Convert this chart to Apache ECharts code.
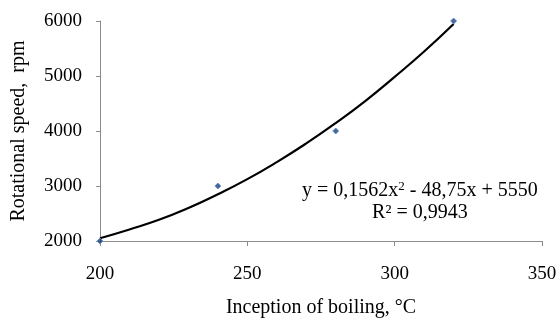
<!DOCTYPE html>
<html>
<head>
<meta charset="utf-8">
<script src="https://cdn.jsdelivr.net/npm/echarts@6/dist/echarts.min.js"></script>
<style>
  html, body { margin: 0; padding: 0; background: #fff; }
  #chart { width: 560px; height: 319px; }
</style>
</head>
<body>
<div id="chart"></div>
<script>
// measured points
var tempX = [200, 240, 280, 320];
var speedY = [2000, 3000, 4000, 6000];

// polynomial trend line
var trendX = [200, 210, 220, 230, 240, 250, 260, 270, 280, 290, 300, 310, 320];
var trendY = [2050, 2210, 2385, 2600, 2850, 3125, 3435, 3775, 4145, 4545, 4985, 5445, 5945];

var fontFam = '"Liberation Serif", "Times New Roman", serif';

var pts = tempX.map(function (x, i) { return [x, speedY[i]]; });
var trend = trendX.map(function (x, i) { return [x, trendY[i]]; });

var myChart = echarts.init(document.getElementById('chart'));
var option = {
  animation: false,
  grid: { left: 100, right: 18, top: 21, bottom: 78, outerBoundsMode: 'none', containLabel: false },
  xAxis: {
    type: 'value',
    min: 200, max: 350, interval: 50,
    name: 'Inception of boiling, °C',
    nameLocation: 'middle',
    nameGap: 57,
    nameTextStyle: { color: '#000', fontFamily: fontFam, fontSize: 20 },
    axisLine: { show: true, lineStyle: { color: '#8c8c8c', width: 1 } },
    axisTick: { show: true, length: 5, lineStyle: { color: '#8c8c8c' } },
    axisLabel: { color: '#000', fontFamily: fontFam, fontSize: 19, margin: 24 },
    splitLine: { show: false }
  },
  yAxis: {
    type: 'value',
    min: 2000, max: 6000, interval: 1000,
    name: 'Rotational speed,  rpm',
    nameLocation: 'middle',
    nameGap: 71,
    nameTextStyle: { color: '#000', fontFamily: fontFam, fontSize: 20 },
    axisLine: { show: true, lineStyle: { color: '#8c8c8c', width: 1 } },
    axisTick: { show: true, length: 4, lineStyle: { color: '#8c8c8c' } },
    axisLabel: {
      color: '#000', fontFamily: fontFam, fontSize: 19, margin: 18,
      formatter: function (v) { return String(v); }
    },
    splitLine: { show: false }
  },
  graphic: [{
    type: 'text',
    left: 302, top: 180,
    style: {
      text: '{a|y = 0,1562x}{s|2}{a| - 48,75x + 5550}\n{a|R² = 0,9943}',
      rich: {
        a: { fontFamily: fontFam, fontSize: 20, color: '#000', lineHeight: 22 },
        s: { fontFamily: fontFam, fontSize: 13, color: '#000', verticalAlign: 'top', lineHeight: 22, padding: [0, 0, 7, 0] }
      },
      textAlign: 'center'
    }
  }],
  series: [
    {
      name: 'trend',
      type: 'line',
      data: trend,
      smooth: true,
      showSymbol: false,
      lineStyle: { color: '#000', width: 2.2 },
      z: 2
    },
    {
      name: 'data',
      type: 'scatter',
      data: pts,
      symbol: 'diamond',
      symbolSize: 6,
      itemStyle: { color: '#1f3f78', borderColor: '#5b8fd0', borderWidth: 1 },
      z: 3
    }
  ]
};
myChart.setOption(option);
</script>
</body>
</html>
